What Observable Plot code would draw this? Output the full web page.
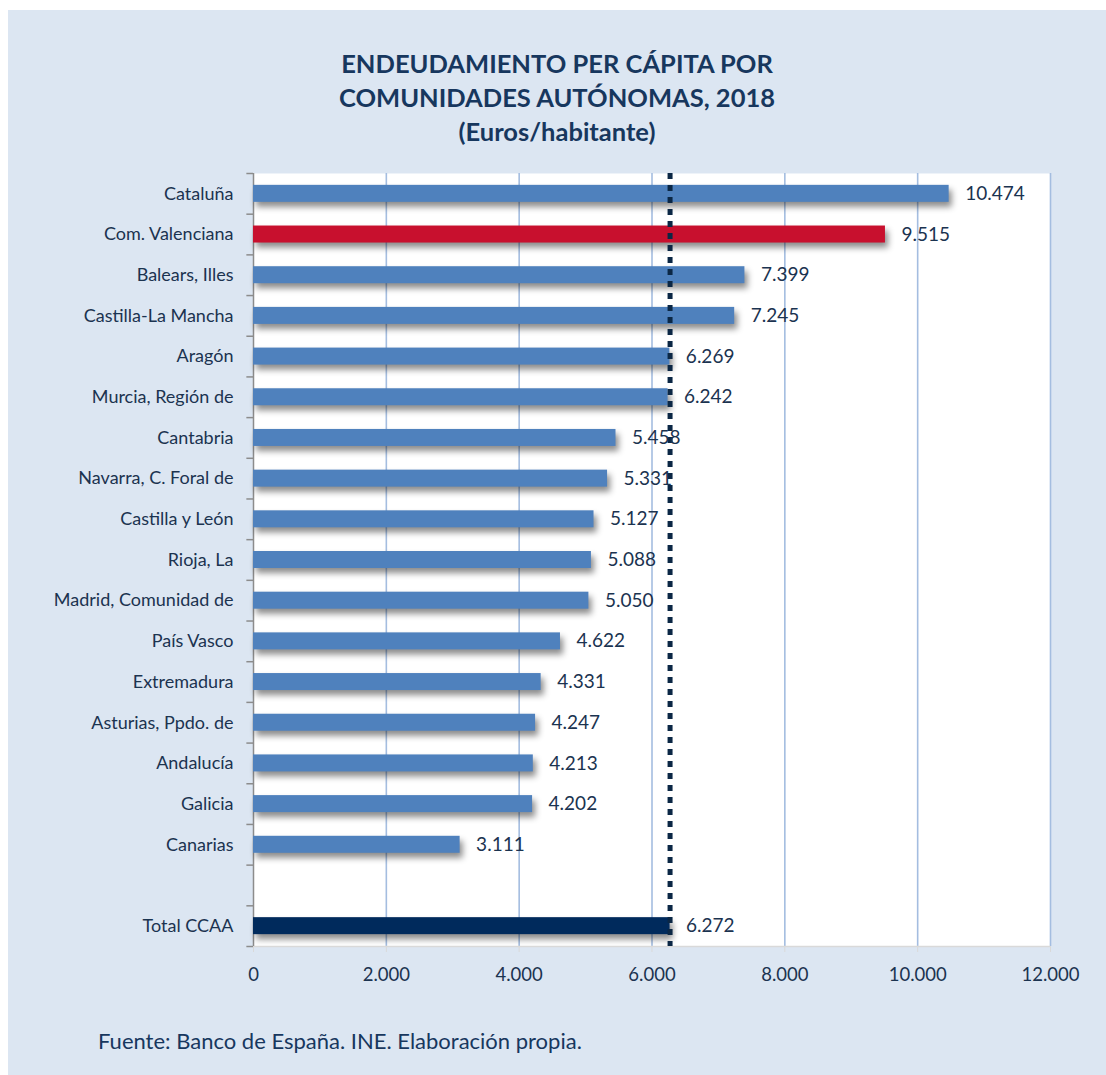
<!DOCTYPE html>
<html>
<head>
<meta charset="utf-8">
<script src="https://cdn.jsdelivr.net/npm/d3@7"></script>
<script src="https://cdn.jsdelivr.net/npm/@observablehq/plot@0.6"></script>
<style>
  html, body { margin: 0; padding: 0; background: #ffffff; }
  #panel {
    position: absolute; left: 8px; top: 10px; width: 1098px; height: 1065px;
    background: #dce6f2; font-family: Lato, "Open Sans", sans-serif; color: #17375e;
  }
  #title {
    height: 104px; padding-top: 36px; text-align: center;
    font-size: 25.5px; font-weight: bold; line-height: 34px; color: #17375e;
  }
  #chart { height: 850px; }
  #caption {
    margin-top: 28px; padding-left: 90px; font-size: 22px; line-height: 26px; color: #17375e;
  }
  svg g[aria-label="bar"] rect { filter: drop-shadow(3px 5px 3px rgba(0,0,0,0.45)); }
</style>
</head>
<body>
<div id="panel">
  <div id="title">ENDEUDAMIENTO PER CÁPITA POR<br>COMUNIDADES AUTÓNOMAS, 2018<br>(Euros/habitante)</div>
  <div id="chart"></div>
  <div id="caption">Fuente: Banco de España. INE. Elaboración propia.</div>
</div>
<script>
const regions = [
  "Cataluña", "Com. Valenciana", "Balears, Illes", "Castilla-La Mancha", "Aragón",
  "Murcia, Región de", "Cantabria", "Navarra, C. Foral de", "Castilla y León", "Rioja, La",
  "Madrid, Comunidad de", "País Vasco", "Extremadura", "Asturias, Ppdo. de", "Andalucía",
  "Galicia", "Canarias"
];
const regionValues = [10474, 9515, 7399, 7245, 6269, 6242, 5458, 5331, 5127, 5088, 5050, 4622, 4331, 4247, 4213, 4202, 3111];
const totalLabel = "Total CCAA";
const totalValue = 6272;
const spacer = " ";
const xTicks = [0, 2000, 4000, 6000, 8000, 10000, 12000];
const gridTicks = [2000, 4000, 6000, 8000, 10000, 12000];

const categories = [...regions, spacer, totalLabel];
const data = regions.map((name, i) => ({name, value: regionValues[i]}));
data.push({name: totalLabel, value: totalValue});

const locale = d3.formatLocale({decimal: ",", thousands: ".", grouping: [3], currency: ["", "€"]});
const fmt = locale.format(",d");

const width = 1098, height = 850;
const marginTop = 23, marginBottom = 54, marginLeft = 245, marginRight = 56;
const bw = (height - marginTop - marginBottom) / categories.length;
const barThick = 17;
const inset = (bw - barThick) / 2;
const lastCat = categories[categories.length - 1];

const barColor = d => d.name === "Com. Valenciana" ? "#c8102e" : d.name === totalLabel ? "#002a5c" : "#4f81bd";

const chart = Plot.plot({
  width, height, marginTop, marginBottom, marginLeft, marginRight,
  style: {background: "transparent", color: "#1b3350", fontFamily: "Lato, 'Open Sans', sans-serif"},
  x: {domain: [0, 12000]},
  y: {domain: categories, padding: 0, round: false},
  marks: [
    Plot.frame({fill: "white", stroke: null}),
    Plot.ruleX(gridTicks, {stroke: "#a4bde0", strokeWidth: 1.6}),
    Plot.ruleY([lastCat], {x1: 0, x2: 12000, dy: bw / 2, stroke: "#d9d9d9", strokeWidth: 1.5}),
    Plot.ruleX([0], {stroke: "#8c8c8c", strokeWidth: 1.5}),
    Plot.ruleY(categories, {x1: -100, x2: 0, dy: -bw / 2, stroke: "#8c8c8c", strokeWidth: 1.5}),
    Plot.ruleY([lastCat], {x1: -100, x2: 0, dy: bw / 2, stroke: "#8c8c8c", strokeWidth: 1.5}),
    Plot.barX(data, {x: "value", y: "name", fill: barColor, insetTop: inset, insetBottom: inset}),
    Plot.ruleX([totalValue], {stroke: "#0b2745", strokeWidth: 5, strokeDasharray: "6 6"}),
    Plot.text(data, {x: "value", y: "name", text: d => fmt(d.value), dx: 16, textAnchor: "start", fontSize: 19, fill: "#1b3350"}),
    Plot.axisY({tickSize: 0, tickPadding: 20, fontSize: 18, tickFormat: d => d, label: null}),
    Plot.axisX(xTicks, {tickSize: 6, tickPadding: 15, fontSize: 18.5, tickFormat: d => fmt(d), stroke: "#d9d9d9", label: null, anchor: "bottom"})
  ]
});
document.getElementById("chart").appendChild(chart);
</script>
</body>
</html>
